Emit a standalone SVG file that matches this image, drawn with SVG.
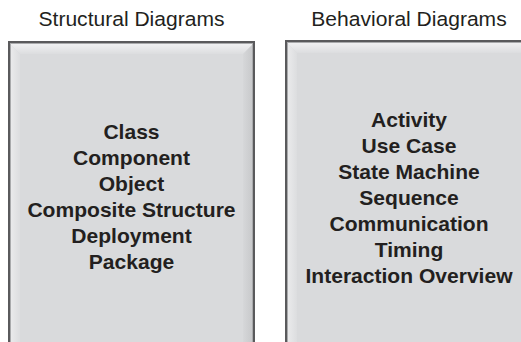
<svg xmlns="http://www.w3.org/2000/svg" width="521" height="342" viewBox="0 0 521 342">
  <defs>
    <linearGradient id="gTop" x1="0" y1="0" x2="0" y2="1">
      <stop offset="0" stop-color="#f4f4f5"/>
      <stop offset="1" stop-color="#dcdddf"/>
    </linearGradient>
    <linearGradient id="gLeft" x1="0" y1="0" x2="1" y2="0">
      <stop offset="0" stop-color="#eeeeef"/>
      <stop offset="1" stop-color="#dcdddf"/>
    </linearGradient>
    <linearGradient id="gRight" x1="0" y1="0" x2="1" y2="0">
      <stop offset="0" stop-color="#d6d7d9"/>
      <stop offset="1" stop-color="#c4c5c7"/>
    </linearGradient>
  </defs>
  <style>
    .hdr { font-family: "Liberation Sans", Arial, sans-serif; font-size: 19.5px; fill: #231f20; text-anchor: middle; }
    .lbl { font-family: "Liberation Sans", Arial, sans-serif; font-size: 19.5px; font-weight: bold; fill: #231f20; text-anchor: middle; }
    .face { fill: #d9dadc; }
    .edge { fill: none; stroke: #5a5a5c; stroke-width: 2; }
    .inner { fill: none; stroke: #a9aaac; stroke-width: 1; }
  </style>

  <g id="structural">
    <rect class="face" x="8" y="42" width="247" height="310"/>
    <polygon fill="url(#gTop)" points="8,42 255,42 243,54 20,54"/>
    <polygon fill="url(#gLeft)" points="8,42 20,54 20,352 8,352"/>
    <polygon fill="url(#gRight)" points="255,42 243,54 243,352 255,352"/>
    <rect class="edge" x="9" y="42" width="245" height="310"/>
    <rect class="inner" x="10.5" y="43.5" width="242" height="310"/>
    <g transform="translate(131.5,0) scale(1.08,1)">
      <text class="hdr" x="0" y="26">Structural Diagrams</text>
      <text class="lbl" x="0" y="139">Class</text>
      <text class="lbl" x="0" y="165">Component</text>
      <text class="lbl" x="0" y="191">Object</text>
      <text class="lbl" x="0" y="217">Composite Structure</text>
      <text class="lbl" x="0" y="243">Deployment</text>
      <text class="lbl" x="0" y="269">Package</text>
    </g>
  </g>

  <g id="behavioral">
    <rect class="face" x="285" y="41" width="250" height="310"/>
    <polygon fill="url(#gTop)" points="285,41 535,41 523,53 297,53"/>
    <polygon fill="url(#gLeft)" points="285,41 297,53 297,352 285,352"/>
    <rect class="edge" x="286" y="41" width="250" height="311"/>
    <rect class="inner" x="287.5" y="42.5" width="250" height="311"/>
    <g transform="translate(409,0) scale(1.08,1)">
      <text class="hdr" x="0" y="26">Behavioral Diagrams</text>
      <text class="lbl" x="0" y="127">Activity</text>
      <text class="lbl" x="0" y="153">Use Case</text>
      <text class="lbl" x="0" y="179">State Machine</text>
      <text class="lbl" x="0" y="205">Sequence</text>
      <text class="lbl" x="0" y="231">Communication</text>
      <text class="lbl" x="0" y="257">Timing</text>
      <text class="lbl" x="0" y="283">Interaction Overview</text>
    </g>
  </g>

  <g id="connectors"/>
</svg>
